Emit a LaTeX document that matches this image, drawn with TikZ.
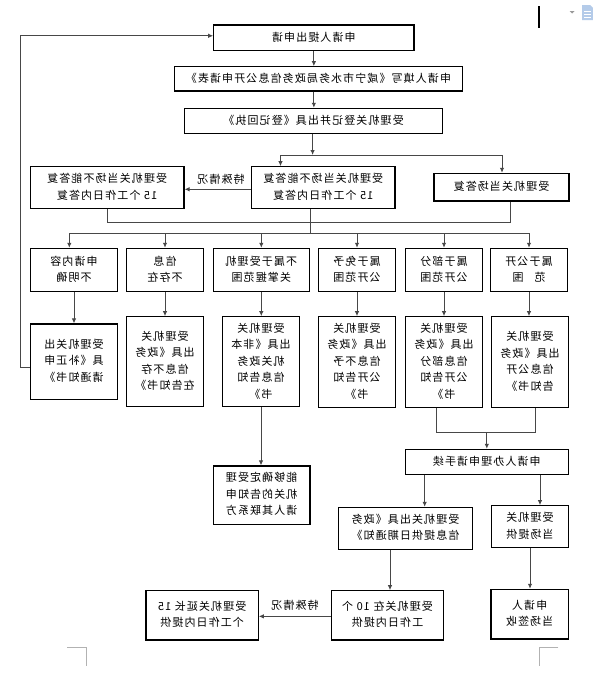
\documentclass[tikz,border=0pt]{standalone}
\usepackage{fontspec}
\usepackage{graphicx}
\setmainfont{Noto Sans CJK SC}[LetterSpace=10]
\usetikzlibrary{arrows.meta}
\definecolor{iconblue}{HTML}{B4CBE9}
\newcommand{\mirt}[1]{\reflectbox{\begin{tabular}{@{}c@{}}#1\end{tabular}}}
\begin{document}
\begin{tikzpicture}[x=1pt,y=-1pt,
  font=\fontsize{11}{16.5}\selectfont,
  box/.style={draw=black, line width=1.1pt, inner sep=0pt, align=center, fill=white},
  conn/.style={draw=black!72, line width=0.9pt},
  arr/.style={conn, -{Latex[length=5pt,width=4.5pt]}},
  cropmark/.style={draw=black!30, line width=0.8pt}]
\fill[white] (0,0) rectangle (593,680);
\useasboundingbox (0,0) rectangle (593,680);

% top rows
\node[box, minimum width=200.3pt, minimum height=25.7pt] (b1) at (313.85,37.85) {\mirt{申请人提出申请}};
\node[box, minimum width=287.5pt, minimum height=24.3pt] (b2) at (318.45,78.85) {\mirt{申请人填写《咸宁市水务局政务信息公开申请表》}};
\node[box, minimum width=257.9pt, minimum height=25pt] (b3) at (313.55,120.8) {\mirt{受理机关登记并出具《登记回执》}};

\node[box, minimum width=143.5pt, minimum height=41.6pt] (mid) at (323.25,187.5) {\mirt{受理机关当场不能答复\\15 个工作日内答复}};
\node[box, minimum width=153.7pt, minimum height=41.6pt] (lft) at (107.15,187.5) {\mirt{受理机关当场不能答复\\15 个工作日内答复}};
\node[box, minimum width=135pt, minimum height=27.7pt] (rgt) at (501.5,187.15) {\mirt{受理机关当场答复}};
\node (lab1) at (221,180) {\mirt{特殊情况}};

% row 3
\node[box, minimum width=86.6pt, minimum height=43.4pt] (ra) at (74,270) {\mirt{申请内容\\不明确}};
\node[box, minimum width=76.6pt, minimum height=43.4pt] (rb) at (165,270) {\mirt{信息\\不存在}};
\node[box, minimum width=96pt, minimum height=43.4pt] (rc) at (261.3,270) {\mirt{不属于受理机\\关掌握范围}};
\node[box, minimum width=77.4pt, minimum height=43.4pt] (rd) at (357,270) {\mirt{属于免予\\公开范围}};
\node[box, minimum width=76.6pt, minimum height=43.4pt] (re) at (444,270) {\mirt{属于部分\\公开范围}};
\node[box, minimum width=76.6pt, minimum height=43.4pt] (rf) at (529,270) {\mirt{属于公开\\范\quad 围}};

% row 4
\node[box, minimum width=86.6pt, minimum height=75.3pt] (sa) at (74,361.65) {\mirt{受理机关出\\具《补正申\\请通知书》}};
\node[box, minimum width=76.6pt, minimum height=90pt] (sb) at (165,361.7) {\mirt{受理机关\\出具《政务\\信息不存\\在告知书》}};
\node[box, minimum width=76.6pt, minimum height=90pt] (sc) at (261,361.7) {\mirt{受理机关\\出具《非本\\机关政务\\信息告知\\书》}};
\node[box, minimum width=77.4pt, minimum height=90.6pt] (sd) at (357,362) {\mirt{受理机关\\出具《政务\\信息不予\\公开告知\\书》}};
\node[box, minimum width=76.6pt, minimum height=90.6pt] (se) at (444,362) {\mirt{受理机关\\出具《政务\\信息部分\\公开告知\\书》}};
\node[box, minimum width=76.6pt, minimum height=90.6pt] (sf) at (530,362) {\mirt{受理机关\\出具《政务\\信息公开\\告知书》}};

% lower part
\node[box, minimum width=163pt, minimum height=25pt] (g) at (486.8,461.8) {\mirt{申请人办理申请手续}};
\node[box, minimum width=96.7pt, minimum height=58.3pt] (h) at (261.65,495.15) {\mirt{能够确定受理\\机关的告知申\\请人其联系方}};
\node[box, minimum width=133.6pt, minimum height=42pt] (i) at (405.5,528.3) {\mirt{受理机关出具《政务\\信息提供日期通知》}};
\node[box, minimum width=76.6pt, minimum height=41.6pt] (j) at (530,526.5) {\mirt{受理机关\\当场提供}};
\node[box, minimum width=111.6pt, minimum height=49.3pt] (k) at (387.5,615.35) {\mirt{受理机关在 10 个\\工作日内提供}};
\node[box, minimum width=77.3pt, minimum height=49.7pt] (l) at (529.65,614.15) {\mirt{申请人\\当场签收}};
\node[box, minimum width=112.3pt, minimum height=49.3pt] (m) at (202.15,615.35) {\mirt{受理机关延长 15\\个工作日内提供}};
\node (lab2) at (295,606) {\mirt{特殊情况}};

% connectors top
\draw[arr] (b1.south) -- (b1.south |- b2.north);
\draw[arr] (b1.south |- b2.south) -- (b1.south |- b3.north);
\coordinate (jA) at (312.6,155);
\coordinate (jL) at (280.5,155);
\coordinate (jR) at (502,155);
\draw[arr] (b3.south -| jA) -- (jA);
\draw[conn] (jL) -- (jR);
\draw[arr] (jL) -- (jL |- mid.north);
\draw[arr] (jR) -- (jR |- rgt.north);
\draw[arr] ([yshift=-1.8pt]mid.west) -- ([yshift=-1.8pt]mid.west -| lft.east);

% collecting line and branch line
\coordinate (cL) at (107.5,222.7);
\coordinate (cR) at (510.6,222.7);
\draw[conn] (cL |- lft.south) -- (cL) -- (cR) -- (cR |- rgt.south);
\coordinate (kL) at (69.3,233.3);
\coordinate (kR) at (530,233.3);
\coordinate (kM) at (310,233.3);
\draw[conn] (kL) -- (kR);
\draw[conn] (kM |- mid.south) -- (kM);
\draw[arr] (kL) -- (kL |- ra.north);
\draw[arr] (rb.north |- kL) -- (rb.north);
\draw[arr] (rc.north |- kL) -- (rc.north);
\draw[arr] (rd.north |- kL) -- (rd.north);
\draw[arr] (re.north |- kL) -- (re.north);
\draw[arr] (rf.north |- kL) -- (rf.north);

% row3 -> row4
\draw[arr] (ra.south) -- (ra.south |- sa.north);
\draw[arr] (rb.south) -- (rb.south |- sb.north);
\draw[arr] (rc.south) -- (rc.south |- sc.north);
\draw[arr] (rd.south) -- (rd.south |- sd.north);
\draw[arr] (re.south) -- (re.south |- se.north);
\draw[arr] (rf.south) -- (rf.south |- sf.north);

% feedback loop
\coordinate (fb) at (20.7,367);
\coordinate (fbt) at (20.7,35.8);
\draw[arr] (sa.west |- fb) -- (fb) -- (fbt) -- (fbt -| b1.west);

% lower connectors
\coordinate (qL) at (436.7,432.7);
\coordinate (qR) at (535,432.7);
\draw[conn] (qL |- se.south) -- (qL) -- (qR) -- (qR |- sf.south);
\draw[arr] (g.north |- qL) -- (g.north);
\coordinate (xgi) at (424.7,480);
\coordinate (xgj) at (540,480);
\draw[arr] (g.south -| xgi) -- (i.north -| xgi);
\draw[arr] (g.south -| xgj) -- (j.north -| xgj);
\draw[arr] (sc.south) -- (sc.south |- h.north);
\coordinate (xik) at (390,570);
\draw[arr] (i.south -| xik) -- (k.north -| xik);
\draw[arr] (j.south) -- (j.south |- l.north);
\draw[arr] ([yshift=-1pt]k.west) -- ([yshift=-1pt]k.west -| m.east);

% page artifacts
\draw[cropmark] (67.3,647.3) -- (86,647.3) -- (86,665.7);
\draw[cropmark] (558.3,647.3) -- (539.3,647.3) -- (539.3,666);
\fill[black] (538.2,6) rectangle (540,27.7);
\fill[black!40] (569.5,11) -- (574.5,11) -- (572,13.5) -- cycle;
\fill[iconblue] (582,5) -- (590,5) -- (593,8) -- (593,20) -- (582,20) -- cycle;
\draw[white, line width=0.8pt] (584,11) -- (591,11) (584,14) -- (591,14) (584,17) -- (591,17);
\end{tikzpicture}
\end{document}
